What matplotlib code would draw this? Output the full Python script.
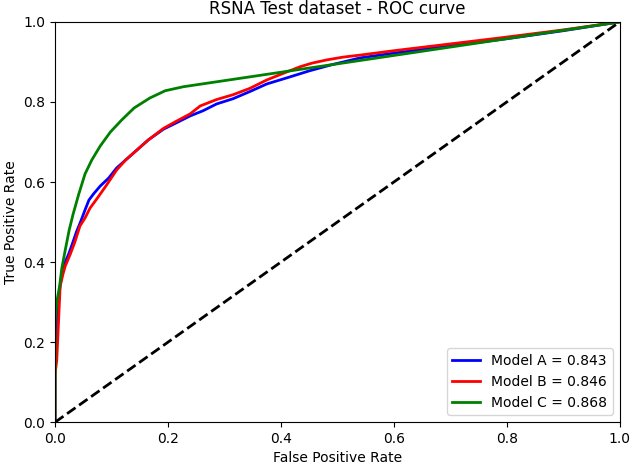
import matplotlib
matplotlib.use("Agg")
import matplotlib.pyplot as plt

# ROC points (FPR, TPR)
fpr_a = [0.0, 0.0, 0.003, 0.008, 0.012, 0.018, 0.024, 0.030, 0.038, 0.045, 0.053,
         0.060, 0.068, 0.080, 0.095, 0.109, 0.125, 0.145, 0.165, 0.192, 0.215,
         0.239, 0.262, 0.286, 0.315, 0.345, 0.375, 0.410, 0.451, 0.490, 0.540,
         0.600, 0.700, 0.800, 0.900, 1.0]
tpr_a = [0.0, 0.15, 0.25, 0.33, 0.37, 0.40, 0.42, 0.443, 0.476, 0.50, 0.53,
         0.555, 0.57, 0.59, 0.61, 0.635, 0.655, 0.68, 0.705, 0.732, 0.748,
         0.765, 0.778, 0.795, 0.808, 0.826, 0.845, 0.86, 0.878, 0.893, 0.910,
         0.922, 0.940, 0.958, 0.978, 1.0]

fpr_b = [0.0, 0.0, 0.003, 0.009, 0.014, 0.018, 0.027, 0.035, 0.044, 0.053,
         0.062, 0.075, 0.090, 0.109, 0.125, 0.145, 0.165, 0.192, 0.215, 0.239,
         0.257, 0.286, 0.315, 0.345, 0.375, 0.405, 0.434, 0.455, 0.481, 0.510,
         0.540, 0.600, 0.700, 0.788, 0.900, 1.0]
tpr_b = [0.0, 0.12, 0.155, 0.34, 0.37, 0.39, 0.42, 0.45, 0.49, 0.51,
         0.535, 0.56, 0.59, 0.63, 0.655, 0.68, 0.705, 0.734, 0.752, 0.770,
         0.790, 0.806, 0.818, 0.834, 0.855, 0.872, 0.888, 0.897, 0.905, 0.912,
         0.917, 0.928, 0.945, 0.960, 0.980, 1.0]

fpr_c = [0.0, 0.0, 0.003, 0.008, 0.012, 0.018, 0.025, 0.032, 0.042, 0.053,
         0.065, 0.080, 0.098, 0.118, 0.140, 0.168, 0.195, 0.227, 1.0]
tpr_c = [0.0, 0.25, 0.30, 0.34, 0.385, 0.43, 0.48, 0.52, 0.57, 0.62,
         0.655, 0.69, 0.725, 0.755, 0.785, 0.81, 0.828, 0.838, 1.0]

labels = ["Model A = 0.843", "Model B = 0.846", "Model C = 0.868"]
colors = ["blue", "red", "green"]

fig = plt.figure(figsize=(6.33, 4.66), dpi=100)
ax = fig.add_axes([0.087, 0.094, 0.892, 0.859])

for fx, ty, lab, col in zip([fpr_a, fpr_b, fpr_c], [tpr_a, tpr_b, tpr_c], labels, colors):
    ax.plot(fx, ty, color=col, lw=2, label=lab)
ax.plot([0, 1], [0, 1], "k--", lw=2)

ax.set_xlim(0, 1)
ax.set_ylim(0, 1)
ax.set_xlabel("False Positive Rate")
ax.set_ylabel("True Positive Rate")
ax.set_title("RSNA Test dataset - ROC curve", fontsize=12)
ax.legend(loc="lower right")

fig.savefig("out.png", dpi=100)
